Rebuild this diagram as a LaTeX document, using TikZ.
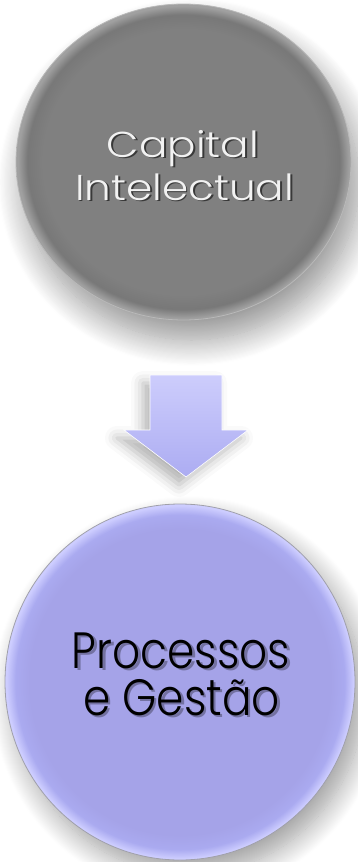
\documentclass[tikz,border=0pt]{standalone}
\usepackage{fontspec}
\setmainfont{Poppins}
\newfontfamily\lightfont{Poppins Light}
\usetikzlibrary{shapes.geometric,shadows.blur}
\definecolor{grayfill}{RGB}{128,128,128}
\definecolor{graydark}{RGB}{120,120,120}
\definecolor{grayrim}{RGB}{160,160,160}
\definecolor{grayline}{RGB}{185,185,185}
\definecolor{lavfill}{RGB}{165,163,232}
\definecolor{lavmid}{RGB}{170,170,240}
\definecolor{lavrim}{RGB}{205,205,255}
\definecolor{lavline}{RGB}{160,160,170}
\definecolor{arrowtop}{RGB}{205,205,252}
\definecolor{arrowbot}{RGB}{172,172,242}
\definecolor{toptext}{RGB}{242,242,242}
\newcommand\topwide[1]{\scalebox{1.17}[1]{#1}}
\newcommand\botnarrow[1]{\scalebox{0.86}[1]{#1}}
\pgfdeclareradialshading{grayball}{\pgfpoint{0bp}{0bp}}{color(0bp)=(grayfill); color(21bp)=(grayfill); color(23.3bp)=(graydark); color(24.7bp)=(grayrim); color(25bp)=(grayrim); color(50bp)=(grayrim)}
\pgfdeclareradialshading{lavball}{\pgfpoint{0bp}{0bp}}{color(0bp)=(lavfill); color(21.5bp)=(lavfill); color(23.5bp)=(lavmid); color(24.8bp)=(lavrim); color(25bp)=(lavrim); color(50bp)=(lavrim)}
\tikzset{
  ball/.style={ellipse, inner sep=0pt},
  graycircle/.style={ball, shading=grayball, draw=grayline, line width=0.8pt,
     blur shadow={shadow xshift=8pt, shadow yshift=-20pt, shadow blur radius=26pt, shadow blur steps=24, shadow opacity=42}},
  lavcircle/.style={ball, shading=lavball, draw=lavline, line width=0.8pt,
     blur shadow={shadow xshift=9pt, shadow yshift=-14pt, shadow blur radius=22pt, shadow blur steps=24, shadow opacity=38}},
  toplabel/.style={anchor=base, inner sep=0pt, text height=25pt, text depth=0pt, text=toptext, font=\lightfont\fontsize{36}{43}\selectfont},
  toplabelshadow/.style={toplabel, text=black, opacity=0.55},
  botlabel/.style={anchor=base, inner sep=0pt, text height=36pt, text depth=0pt, text=black, font=\lightfont\fontsize{51}{47}\selectfont},
  botlabelshadow/.style={botlabel, opacity=0.3},
  blockarrow/.style={top color=arrowtop, bottom color=arrowbot, draw=white, line width=0.6pt,
     blur shadow={shadow xshift=-7pt, shadow yshift=-8pt, shadow blur radius=12pt, shadow opacity=30}}
}
\begin{document}
\begin{tikzpicture}[x=1pt,y=-1pt]
\useasboundingbox (0,0) rectangle (358,862);
% top circle
\node[graycircle, minimum width=335pt, minimum height=316pt] (top) at (183.5,162) {};
\node[toplabelshadow] (t1s) at (184.8,158.5) {\topwide{Capital}};
\node[toplabelshadow] (t2s) at (186.3,201.5) {\topwide{Intelectual}};
\node[toplabel] (t1) at (183,157) {\topwide{Capital}};
\node[toplabel] (t2) at (184.5,200) {\topwide{Intelectual}};
% arrow
\path[blockarrow] (150,375) -- (222,375) -- (222,430) -- (248,430) -- (186,477) -- (124,430) -- (150,430) -- cycle;
% bottom circle
\node[lavcircle, minimum width=350pt, minimum height=356pt] (bot) at (180,682) {};
\node[botlabelshadow] (b1s) at (183.5,670.5) {\botnarrow{Processos}};
\node[botlabelshadow] (b2s) at (184,717.5) {\botnarrow{e Gestão}};
\node[botlabel] (b1) at (181,668) {\botnarrow{Processos}};
\node[botlabel] (b2) at (181.5,715) {\botnarrow{e Gestão}};
\end{tikzpicture}
\end{document}
